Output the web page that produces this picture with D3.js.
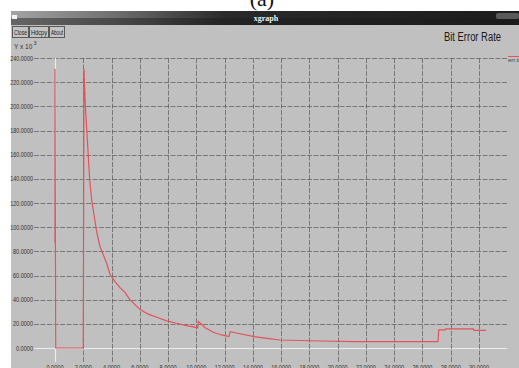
<!DOCTYPE html>
<html>
<head>
<meta charset="utf-8">
<script src="https://cdn.jsdelivr.net/npm/d3@7"></script>
<style>
  html, body { margin: 0; padding: 0; background: #fff; }
  svg { display: block; }
</style>
</head>
<body>
<svg id="chart" width="519" height="368"></svg>
<script>
// Bit error rate trace (x in time units, y in units of 10^3)
const xTicks = [0, 2, 4, 6, 8, 10, 12, 14, 16, 18, 20, 22, 24, 26, 28, 30];
const yTicks = [0, 20, 40, 60, 80, 100, 120, 140, 160, 180, 200, 220, 240];
const seriesName = "err.trace";
const errX = [0, 0, 0.05, 2.0, 2.05, 2.15, 2.3, 2.45, 2.6, 2.95, 3.18, 3.66, 3.89, 4.25, 4.6, 4.95, 5.3, 6.0, 6.6, 7.3, 7.9, 8.6, 9.3, 10.1, 10.15, 10.6, 11.2, 11.8, 12.3, 12.4, 13.0, 14.1, 15.0, 15.9, 18.8, 21.2, 27.1, 27.15, 27.6, 27.65, 29.6, 29.65, 30.5];
const errY = [87, 231, 0, 0, 231, 200, 170, 140, 122, 96, 84, 70, 61, 55, 50, 46, 40, 32, 28, 25, 22.4, 20.5, 18.5, 16.8, 22, 17, 13, 10.8, 9.4, 13.5, 12, 9.4, 8, 6.6, 5.8, 5.3, 5.2, 15, 15, 15.8, 15.8, 14.6, 14.6];

const svg = d3.select("#chart");
const sans = "'Liberation Sans', Arial, sans-serif";

// condensed text: squeeze glyphs into a fixed width
function condensed(sel, width) {
  return sel.attr("textLength", width).attr("lengthAdjust", "spacingAndGlyphs");
}

// caption above the window
svg.append("text").attr("x", 262).attr("y", 6)
  .attr("text-anchor", "middle")
  .attr("font-family", "'Liberation Serif', 'DejaVu Serif', serif")
  .attr("font-size", 22).attr("fill", "#111").text("(a)");

// window body
svg.append("rect").attr("x", 11).attr("y", 11).attr("width", 508).attr("height", 357)
  .attr("fill", "#c0c0c0");

// title bar
const defs = svg.append("defs");
const g1 = defs.append("linearGradient").attr("id", "tbar").attr("x1", 0).attr("x2", 1).attr("y1", 0).attr("y2", 0);
g1.append("stop").attr("offset", "0%").attr("stop-color", "#a4a4a4");
g1.append("stop").attr("offset", "20%").attr("stop-color", "#707070");
g1.append("stop").attr("offset", "42%").attr("stop-color", "#2a2a2a");
g1.append("stop").attr("offset", "100%").attr("stop-color", "#1c1c1c");
svg.append("rect").attr("x", 11).attr("y", 11).attr("width", 508).attr("height", 14).attr("fill", "url(#tbar)");
svg.append("rect").attr("x", 11).attr("y", 18).attr("width", 508).attr("height", 7).attr("fill", "#1a1a1a").attr("opacity", 0.45);
svg.append("rect").attr("x", 12).attr("y", 15).attr("width", 5).attr("height", 4).attr("fill", "#f4f4f4");
svg.append("rect").attr("x", 496).attr("y", 13).attr("width", 23).attr("height", 6).attr("rx", 2)
  .attr("fill", "#5a5a5a");
svg.append("text").attr("x", 266).attr("y", 21).attr("text-anchor", "middle")
  .attr("font-family", "'Liberation Serif', serif").attr("font-weight", "bold")
  .attr("font-size", 8).attr("fill", "#f0f0f0").text("xgraph");

// buttons
const buttons = [{t: "Close", x: 12, w: 16}, {t: "Hdcpy", x: 29, w: 19}, {t: "About", x: 49, w: 15}];
buttons.forEach(b => {
  svg.append("rect").attr("x", b.x + 0.5).attr("y", 26.5).attr("width", b.w).attr("height", 11)
    .attr("fill", "#c4c4c4").attr("stroke", "#5a5a5a").attr("stroke-width", 1);
  condensed(svg.append("text").attr("x", b.x + 2).attr("y", 34.5)
    .attr("font-family", sans).attr("font-size", 7).attr("fill", "#222").text(b.t), b.w - 3);
});

// unit label and title
svg.append("text").attr("x", 14).attr("y", 49)
  .attr("font-family", sans).attr("font-size", 6.5).attr("fill", "#333").text("Y x 10");
svg.append("text").attr("x", 33.5).attr("y", 45)
  .attr("font-family", sans).attr("font-size", 5.5).attr("fill", "#333").text("3");
condensed(svg.append("text").attr("x", 444).attr("y", 41)
  .attr("font-family", sans).attr("font-size", 12).attr("fill", "#1a1a1a").text("Bit Error Rate"), 57);

// scales
const x = d3.scaleLinear().domain([0, 30]).range([55, 479]);
const y = d3.scaleLinear().domain([0, 240]).range([348, 58]);
const xLeft = 34, xRight = 507, yBottom = 362;

// horizontal grid
svg.append("g").selectAll("line").data(yTicks).join("line")
  .attr("x1", xLeft).attr("x2", xRight)
  .attr("y1", d => Math.round(y(d)) + 0.5).attr("y2", d => Math.round(y(d)) + 0.5)
  .attr("stroke", d => d === 0 ? "#ececec" : "#5a5a5a")
  .attr("stroke-width", d => d === 0 ? 1.2 : 1)
  .attr("stroke-dasharray", d => d === 0 ? null : "5,1.5")
  .attr("opacity", d => d === 0 ? 1 : 0.7);

// vertical grid
svg.append("g").selectAll("line").data(xTicks).join("line")
  .attr("x1", d => Math.round(x(d)) + 0.5).attr("x2", d => Math.round(x(d)) + 0.5)
  .attr("y1", y(240)).attr("y2", yBottom)
  .attr("stroke", d => d === 0 ? "#ececec" : "#5a5a5a")
  .attr("stroke-width", d => d === 0 ? 1.2 : 1)
  .attr("stroke-dasharray", d => d === 0 ? null : "5,1.5")
  .attr("opacity", d => d === 0 ? 1 : 0.7);

// y tick labels
svg.append("g").selectAll("text").data(yTicks).join("text")
  .attr("x", 33).attr("y", d => y(d) + 2.5).attr("text-anchor", "end")
  .attr("font-family", sans).attr("font-size", 6.5).attr("fill", "#333")
  .attr("textLength", d => d.toFixed(4).length * 2.85).attr("lengthAdjust", "spacingAndGlyphs")
  .text(d => d.toFixed(4));

// x tick labels
svg.append("g").selectAll("text").data(xTicks).join("text")
  .attr("x", d => x(d)).attr("y", 370).attr("text-anchor", "middle")
  .attr("font-family", sans).attr("font-size", 6.5).attr("fill", "#333")
  .attr("textLength", d => d.toFixed(4).length * 2.85).attr("lengthAdjust", "spacingAndGlyphs")
  .text(d => d.toFixed(4));

// series
const pts = errX.map((v, i) => [v, errY[i]]);
svg.append("path").datum(pts)
  .attr("fill", "none").attr("stroke", "#e2535a").attr("stroke-width", 1.2)
  .attr("stroke-linejoin", "miter")
  .attr("d", d3.line().x(d => x(d[0])).y(d => y(d[1])));

// legend
svg.append("line").attr("x1", 508).attr("x2", 519).attr("y1", 56.5).attr("y2", 56.5)
  .attr("stroke", "#e2535a").attr("stroke-width", 1);
svg.append("text").attr("x", 508).attr("y", 62)
  .attr("font-family", sans).attr("font-size", 6).attr("fill", "#444").text(seriesName);
</script>
</body>
</html>
